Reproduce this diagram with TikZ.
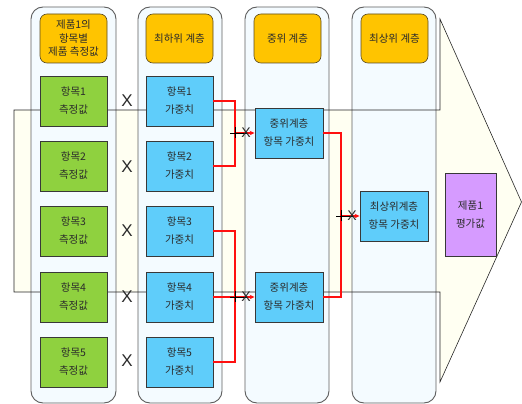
\documentclass[tikz,border=0pt]{standalone}
\usepackage{fontspec}
\setmainfont{Noto Sans CJK KR}
\newfontfamily\xfont{Liberation Sans}
\usetikzlibrary{arrows.meta}
\definecolor{textc}{HTML}{2B2B2B}
\definecolor{colline}{HTML}{5E5E5E}
\definecolor{colfill}{HTML}{F4FBFF}
\definecolor{arrowfill}{HTML}{FFFFF2}
\definecolor{hdrfill}{HTML}{FFC400}
\definecolor{hdrline}{HTML}{5A4A20}
\definecolor{greenfill}{HTML}{8FD13F}
\definecolor{bluefill}{HTML}{5FCDFA}
\definecolor{purplefill}{HTML}{D69BFF}
\definecolor{boxline}{HTML}{383838}
\definecolor{redline}{HTML}{FF1010}
\begin{document}
\begin{tikzpicture}[x=1pt,y=-1pt,
  txt/.style={text=textc, font=\fontsize{10.5}{18}\selectfont, align=center},
  colbox/.style={draw=colline, fill=colfill, line width=0.9pt, rounded corners=12pt},
  hdr/.style={txt, draw=hdrline, fill=hdrfill, rounded corners=7pt, line width=0.6pt,
    minimum width=67pt, minimum height=49pt, inner sep=0pt, font=\fontsize{10.5}{13.5}\selectfont},
  gbox/.style={txt, draw=boxline, fill=greenfill, minimum width=67pt, minimum height=50pt,
    inner sep=0pt, line width=0.9pt},
  bbox/.style={gbox, fill=bluefill},
  mbox/.style={gbox, fill=bluefill, minimum width=68pt},
  pbox/.style={gbox, fill=purplefill, minimum width=51pt, minimum height=83pt},
  xmark/.style={text=textc, font=\xfont\fontsize{17}{17}\selectfont, inner sep=0pt},
  jmark/.style={text=textc, font=\xfont\fontsize{14}{14}\selectfont, inner sep=0pt},
  outline/.style={draw=black!85, line width=0.6pt},
  redc/.style={draw=redline, line width=1.2pt},
  redarrow/.style={redc, -{Stealth[length=5pt,width=4.5pt]}}
]
\useasboundingbox (0,0) rectangle (522,404);
% big arrow fill
\fill[arrowfill] (14,110) -- (440,110) -- (440,19) -- (521.5,202) -- (440,382) -- (440,292) -- (14,292) -- cycle;
% columns
\draw[colbox] (31,7) rectangle (116,403);
\draw[colbox] (138,7) rectangle (222,403);
\draw[colbox] (245,7) rectangle (329,403);
\draw[colbox] (352,7) rectangle (436,403);
% big arrow outline
\draw[outline] (14,110) -- (440,110) -- (440,19) -- (521.5,202) -- (440,382) -- (440,292) -- (14,292) -- cycle;
% headers
\node[hdr] (h1) at (73.5,38.5) {제품1의\\항목별\\제품 측정값};
\node[hdr] (h2) at (179.5,38.5) {최하위 계층};
\node[hdr] (h3) at (287.5,38.5) {중위 계층};
\node[hdr] (h4) at (394.5,38.5) {최상위 계층};
% coordinates of junctions
\coordinate (j1) at (235,133);
\coordinate (j2) at (235,297);
\coordinate (j3) at (341,216);
% boxes
\node[gbox] (g1) at (73.5,101) {항목1\\측정값};
\node[gbox] (g2) at (73.5,166) {항목2\\측정값};
\node[gbox] (g3) at (73.5,231) {항목3\\측정값};
\node[gbox] (g4) at (73.5,297) {항목4\\측정값};
\node[gbox] (g5) at (73.5,362) {항목5\\측정값};
\node[bbox] (b1) at (179.5,101) {항목1\\가중치};
\node[bbox] (b2) at (179.5,166) {항목2\\가중치};
\node[bbox] (b3) at (179.5,231) {항목3\\가중치};
\node[bbox] (b4) at (179.5,297) {항목4\\가중치};
\node[bbox] (b5) at (179.5,362) {항목5\\가중치};
\node[mbox] (m1) at (289,133) {중위계층\\항목 가중치};
\node[mbox] (m2) at (289,297) {중위계층\\항목 가중치};
\node[mbox] (t1) at (394,216) {최상위계층\\항목 가중치};
\node[pbox] (p1) at (470.5,214.5) {제품1\\평가값};
% red connectors
\draw[redc] (b1.east) -| (j1);
\draw[redc] (b2.east) -| (j1);
\draw[redc] (b3.east) -| (j2);
\draw[redc] (b4.east) -- (j2);
\draw[redc] (b5.east) -| (j2);
\draw[redc] (m1.east) -| (j3);
\draw[redc] (m2.east) -| (j3);
\draw[redarrow] (j1) -- (m1.west);
\draw[redarrow] (j2) -- (m2.west);
\draw[redarrow] (j3) -- (t1.west);
% junction marks
\foreach \j in {j1,j2,j3}{
  \draw[black, line width=0.7pt] ([xshift=-5pt]\j) -- ([xshift=12pt]\j);
  \draw[black, line width=0.7pt] ([yshift=-5pt]\j) -- ([yshift=6pt]\j);
  \node[jmark] at ([xshift=11pt]\j) {X};
}
% X marks between columns
\node[xmark] (x1) at (127,100.5) {X};
\node[xmark] (x2) at (127,167) {X};
\node[xmark] (x3) at (127,231) {X};
\node[xmark] (x4) at (127,297) {X};
\node[xmark] (x5) at (127,361) {X};
\end{tikzpicture}
\end{document}
